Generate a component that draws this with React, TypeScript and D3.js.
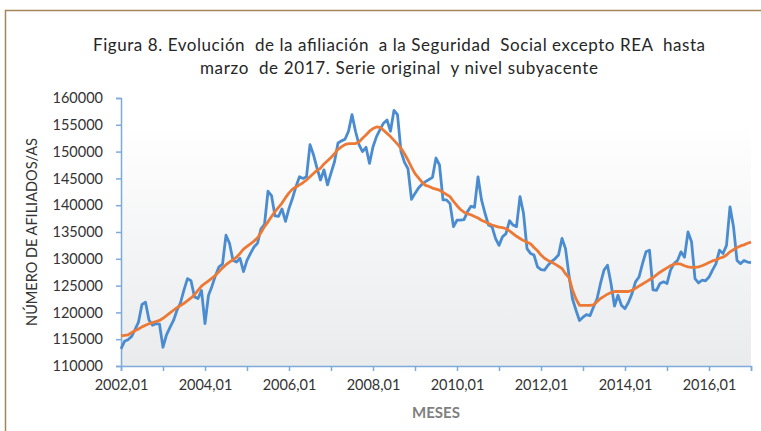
import * as d3 from "d3"
import { useEffect, useRef } from "react"

const titleLines = [
    "Figura 8. Evolución  de la afiliación  a la Seguridad  Social excepto REA  hasta",
    "marzo  de 2017. Serie original  y nivel subyacente",
]
const titleWidths = [612, 398]

const startYear = 2002
const yTicks = [110000, 115000, 120000, 125000, 130000, 135000, 140000, 145000, 150000, 155000, 160000]

// serie original, mensual desde 2002,01
const original = [
    113200, 114600, 114900, 115500, 116800, 118200, 121500, 121900, 118600, 117600, 117900, 117800,
    113500, 115800, 117200, 118500, 120400, 121800, 124200, 126300, 125900, 122900, 122600, 124100,
    117900, 123200, 124900, 126900, 128500, 129000, 134400, 132900, 129700, 129400, 130100, 127600,
    129700, 131000, 132200, 132900, 135600, 136400, 142600, 141800, 138000, 137900, 139300, 137000,
    139400, 141300, 143500, 145300, 145000, 145300, 151300, 149400, 146900, 144700, 146600, 143800,
    146000, 148100, 151600, 152000, 152300, 153800, 156900, 153800, 151300, 150000, 150800, 147800,
    150900, 152800, 154100, 155300, 155900, 153800, 157700, 156900, 150000, 148000, 146800, 141100,
    142200, 143200, 143900, 144400, 144800, 145200, 148800, 147500, 141000, 141000, 140300, 136000,
    137200, 137200, 137300, 138800, 139800, 139600, 145300, 141000, 138500, 136300, 136000, 133800,
    132500, 134100, 134700, 137100, 136300, 136000, 141600, 138500, 131900, 131000, 130700, 128500,
    128000, 127900, 128800, 129500, 130000, 130700, 133800, 131900, 126900, 122500, 120400, 118500,
    119100, 119600, 119400, 121000, 122500, 125400, 127900, 128800, 125400, 121200, 123200, 121300,
    120700, 121900, 123500, 125700, 126600, 129100, 131300, 131600, 124200, 124100, 125400, 125700,
    125400, 127900, 129100, 129700, 131300, 130300, 135000, 133200, 126300, 125500, 126000, 125900,
    126600, 127900, 129100, 131600, 131000, 132500, 139700, 136000, 129700, 129100, 129700, 129400,
    129300,
]

// nivel subyacente
const subyacente = [
    115600, 115700, 115800, 116200, 116600, 116900, 117300, 117600, 117900, 118100, 118300, 118500,
    118900, 119400, 119900, 120400, 120900, 121300, 121700, 122200, 122700, 123300, 124100, 124900,
    125400, 125900, 126400, 126900, 127600, 128300, 128900, 129400, 129800, 130300, 131000, 131800,
    132300, 132800, 133300, 133900, 134900, 136000, 136900, 137900, 138800, 139600, 140400, 141400,
    142300, 143000, 143400, 143800, 144200, 144700, 145300, 145900, 146500, 146900, 147700, 148300,
    148900, 149600, 150400, 150900, 151300, 151500, 151500, 151500, 151800, 152500, 153100, 153800,
    154300, 154600, 154500, 154000, 153400, 152800, 152100, 151400, 150600, 149600, 148400, 147100,
    145900, 145100, 144300, 143700, 143500, 143200, 143000, 142800, 142400, 142000, 141600, 140700,
    139900, 139200, 138700, 138400, 138200, 137900, 137600, 137200, 136900, 136600, 136300, 136100,
    135900, 135800, 135600, 135200, 134700, 134200, 133800, 133400, 133100, 132800, 132100, 131500,
    130700, 130100, 129700, 129400, 129000, 128600, 128200, 127200, 126500, 124200, 122500, 121300,
    121300, 121300, 121300, 121400, 122000, 122600, 123000, 123400, 123700, 123900, 123900, 123900,
    123900, 123900, 124100, 124500, 124900, 125300, 125700, 126100, 126500, 127000, 127500, 127900,
    128300, 128700, 129000, 129100, 129000, 128700, 128500, 128400, 128400, 128500, 128700, 129000,
    129300, 129600, 129800, 130100, 130300, 130700, 131300, 131700, 132100, 132400, 132600, 132900,
    133100,
]

export default function App() {
    const svgRef = useRef<SVGSVGElement>(null)

    useEffect(() => {
        if (!svgRef.current) return

        const svg = d3.select(svgRef.current)
        svg.selectAll("*").remove()

        const width = 761
        const height = 431
        const margin = { top: 98, right: 10, bottom: 65, left: 121 }
        const font = "Lato, 'Open Sans', sans-serif"
        const axisColor = "#7eaadb"

        const x = d3
            .scaleLinear()
            .domain([0, 180])
            .range([margin.left, width - margin.right])

        const y = d3
            .scaleLinear()
            .domain([110000, 160000])
            .range([height - margin.bottom, margin.top])

        // marco
        svg.append("rect")
            .attr("x", 5.5)
            .attr("y", 10.5)
            .attr("width", 800)
            .attr("height", 500)
            .attr("fill", "white")
            .attr("stroke", "#a5855a")
            .attr("stroke-width", 1.5)

        // fondo del area de trazado
        const grad = svg.append("defs")
            .append("linearGradient")
            .attr("id", "plotbg")
            .attr("x1", 0).attr("y1", 0).attr("x2", 0).attr("y2", 1)
        grad.append("stop").attr("offset", "0%").attr("stop-color", "#ffffff")
        grad.append("stop").attr("offset", "12%").attr("stop-color", "#ffffff")
        grad.append("stop").attr("offset", "100%").attr("stop-color", "#e9ebed")

        svg.append("rect")
            .attr("x", margin.left)
            .attr("y", margin.top - 8)
            .attr("width", width - margin.right - margin.left)
            .attr("height", height - margin.bottom - margin.top + 8)
            .attr("fill", "url(#plotbg)")

        // titulo
        svg.append("g")
            .selectAll("text")
            .data(titleLines)
            .join("text")
            .attr("x", 399)
            .attr("y", (_, i) => 51 + i * 23)
            .attr("text-anchor", "middle")
            .attr("font-family", font)
            .attr("font-size", 17)
            .attr("fill", "#262626")
            .attr("textLength", (_, i) => titleWidths[i])
            .attr("lengthAdjust", "spacing")
            .style("white-space", "pre")
            .text((d) => d)

        // eje Y
        const yAxis = svg.append("g")
            .attr("transform", `translate(${margin.left},0)`)
            .call(d3.axisLeft(y).tickValues(yTicks).tickSize(5).tickPadding(13).tickFormat(d3.format("d")))
        yAxis.select(".domain").attr("stroke", axisColor).attr("stroke-width", 1.5)
        yAxis.selectAll(".tick line").attr("stroke", axisColor).attr("stroke-width", 1.5)
        yAxis.selectAll(".tick text")
            .attr("font-family", font)
            .attr("font-size", 14.5)
            .attr("fill", "#333")

        // eje X
        const xTicks = d3.range(0, 181, 12)
        const xAxis = svg.append("g")
            .attr("transform", `translate(0,${height - margin.bottom})`)
            .call(
                d3.axisBottom(x)
                    .tickValues(xTicks)
                    .tickSize(5)
                    .tickPadding(9)
                    .tickFormat((d) => ((+d / 12) % 2 === 0 && +d < 180 ? `${startYear + +d / 12},01` : "")),
            )
        xAxis.select(".domain").attr("stroke", axisColor).attr("stroke-width", 1.5)
        xAxis.selectAll(".tick line").attr("stroke", axisColor).attr("stroke-width", 1.5)
        xAxis.selectAll(".tick text")
            .attr("font-family", font)
            .attr("font-size", 14.5)
            .attr("fill", "#333")

        // titulos de ejes
        svg.append("text")
            .attr("x", (margin.left + width - margin.right) / 2)
            .attr("y", 418)
            .attr("text-anchor", "middle")
            .attr("font-family", font)
            .attr("font-size", 15)
            .attr("font-weight", "bold")
            .attr("fill", "#7f7f7f")
            .text("MESES")

        svg.append("text")
            .attr("transform", `translate(37,${(margin.top + height - margin.bottom) / 2}) rotate(-90)`)
            .attr("text-anchor", "middle")
            .attr("font-family", font)
            .attr("font-size", 14.5)
            .attr("fill", "#333")
            .text("NÚMERO DE AFILIADOS/AS")

        const line = d3
            .line<number>()
            .x((_, i) => x(i))
            .y((d) => y(d))

        svg.append("path")
            .datum(original)
            .attr("fill", "none")
            .attr("stroke", "#4a8ccf")
            .attr("stroke-width", 2.8)
            .attr("stroke-linejoin", "round")
            .attr("d", line)

        svg.append("path")
            .datum(subyacente)
            .attr("fill", "none")
            .attr("stroke", "#ec7a36")
            .attr("stroke-width", 2.8)
            .attr("stroke-linejoin", "round")
            .attr("d", line)
    }, [])

    return (
        <svg
            ref={svgRef}
            width={761}
            height={431}
            viewBox="0 0 761 431"
            style={{ position: "absolute", left: 0, top: 0, display: "block" }}
        />
    )
}
